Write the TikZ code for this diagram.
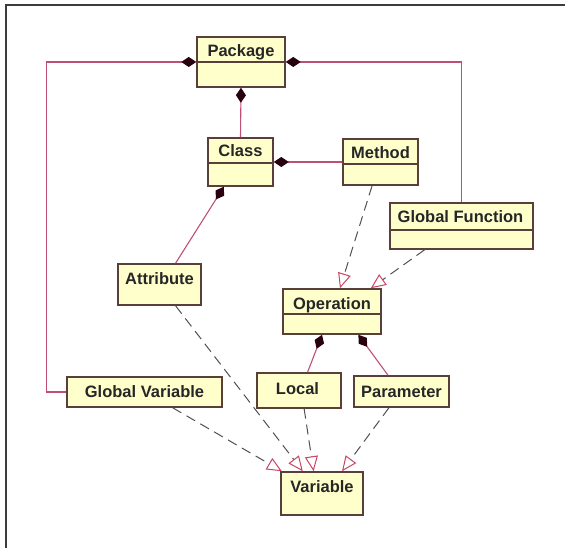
\documentclass[tikz,border=0pt]{standalone}
\usepackage{fontspec}
\setmainfont{Liberation Sans}
\usetikzlibrary{arrows.meta,calc}
\definecolor{boxfill}{RGB}{255,255,204}
\definecolor{boxdraw}{RGB}{90,62,58}
\definecolor{complink}{RGB}{190,80,115}
\definecolor{diam}{RGB}{40,0,15}
\definecolor{tricol}{RGB}{200,70,100}
\definecolor{dashcol}{RGB}{80,80,80}
\definecolor{framecol}{RGB}{60,60,60}
\tikzset{
  umlbox/.style={draw=boxdraw, fill=boxfill, line width=1.5pt, inner sep=0pt},
  divline/.style={draw=boxdraw, line width=1.3pt},
  lbl/.style={font=\fontsize{16.5}{18}\selectfont\bfseries, anchor=base, inner sep=0pt, text=black!85},
  comp/.style={draw=complink, line width=1.1pt, -{Diamond[length=15pt,width=10pt,fill=diam,color=diam]}},
  realize/.style={draw=dashcol, line width=1pt, dash pattern=on 10pt off 6pt,
    -{Triangle[length=15pt,width=13pt,fill=white,color=tricol,line width=1pt]}},
}
\begin{document}
\begin{tikzpicture}[x=1pt,y=-1pt]
\useasboundingbox (0,0) rectangle (565,548);
% frame
\draw[framecol, line width=1.5pt] (6,548) -- (6,5) -- (565,5);
% boxes
\node[umlbox, minimum width=88pt, minimum height=50pt] (pkg) at (241,62) {};
\draw[divline] (pkg.west) -- (pkg.east);
\node[lbl] (pkgt) at (241,57) {Package};

\node[umlbox, minimum width=65pt, minimum height=48pt] (cls) at (240.5,162) {};
\draw[divline] (cls.west |- 0,163) -- (cls.east |- 0,163);
\node[lbl] (clst) at (240.5,157) {Class};

\node[umlbox, minimum width=75pt, minimum height=46pt] (mth) at (380.5,162) {};
\draw[divline] (mth.west |- 0,164) -- (mth.east |- 0,164);
\node[lbl] (mtht) at (380.5,159) {Method};

\node[umlbox, minimum width=143pt, minimum height=46pt] (gfn) at (461.5,226) {};
\draw[divline] (gfn.west |- 0,230) -- (gfn.east |- 0,230);
\node[lbl] (gfnt) at (460.5,223) {Global Function};

\node[umlbox, minimum width=83pt, minimum height=41pt] (att) at (159.5,284.5) {};
\node[lbl] (attt) at (159.5,284) {Attribute};

\node[umlbox, minimum width=98pt, minimum height=45pt] (opr) at (332,311.5) {};
\draw[divline] (opr.west |- 0,314) -- (opr.east |- 0,314);
\node[lbl] (oprt) at (332,309) {Operation};

\node[umlbox, minimum width=155pt, minimum height=30pt] (gvar) at (144.5,392) {};
\node[lbl] (gvart) at (144.5,397) {Global Variable};

\node[umlbox, minimum width=84pt, minimum height=35pt] (loc) at (299,390.5) {};
\node[lbl] (loct) at (297.5,394) {Local};

\node[umlbox, minimum width=95pt, minimum height=31pt] (par) at (401.5,391.5) {};
\node[lbl] (part) at (401.5,397) {Parameter};

\node[umlbox, minimum width=82pt, minimum height=43pt] (var) at (322,493.5) {};
\node[lbl] (vart) at (322,492) {Variable};

% composition links
\draw[comp] (cls.north) -- (pkg.south);
\draw[comp] (mth.west) -- (cls.east);
\draw[comp] (gvar.west) -- ++(-20,0) |- (pkg.west);
\draw[comp] (gfn.north) |- (pkg.east);
\draw[comp] ($(att.north west)!0.69!(att.north east)$) -- ($(cls.south west)!0.25!(cls.south east)$);
\draw[comp] ($(loc.north west)!0.6!(loc.north east)$) -- ($(opr.south west)!0.4!(opr.south east)$);
\draw[comp] ($(par.north west)!0.36!(par.north east)$) -- ($(opr.south west)!0.765!(opr.south east)$);

% realization links
\draw[realize] ($(mth.south west)!0.39!(mth.south east)$) -- ($(opr.north west)!0.58!(opr.north east)$);
\draw[realize] ($(gfn.south west)!0.245!(gfn.south east)$) -- ($(opr.north west)!0.89!(opr.north east)$);
\draw[realize] ($(gvar.south west)!0.68!(gvar.south east)$) -- ($(var.north west)!0.02!(var.north east)$);
\draw[realize] ($(att.south west)!0.69!(att.south east)$) -- ($(var.north west)!0.27!(var.north east)$);
\draw[realize] ($(loc.south west)!0.56!(loc.south east)$) -- ($(var.north west)!0.40!(var.north east)$);
\draw[realize] ($(par.south west)!0.37!(par.south east)$) -- ($(var.north west)!0.74!(var.north east)$);
\end{tikzpicture}
\end{document}
